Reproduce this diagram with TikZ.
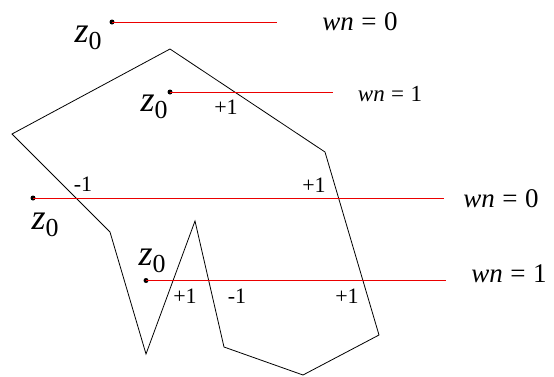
\documentclass[tikz,border=0pt]{standalone}
\usepackage{fontspec}
\setmainfont{Liberation Serif}
\definecolor{rayred}{RGB}{235,0,0}
\newcommand{\zz}{\textit{z}\raisebox{-0.42ex}{\scalebox{0.72}{0}}}
\newcommand{\wneq}[1]{\textit{wn}\;=\;#1}
\begin{document}
\begin{tikzpicture}[x=1pt,y=-1pt,
  dot/.style={circle,fill=black,inner sep=0pt,minimum size=5pt},
  ray/.style={draw=rayred,line width=1pt},
  poly/.style={black,line width=0.8pt,line join=miter},
  zlab/.style={inner sep=0pt,font=\fontsize{36}{38}\selectfont},
  wnbig/.style={inner sep=0pt,font=\fontsize{27}{29}\selectfont},
  wnsmall/.style={inner sep=0pt,font=\fontsize{23}{25}\selectfont},
  cnt/.style={inner sep=0pt,font=\fontsize{22}{24}\selectfont}]
\useasboundingbox (0,0) rectangle (554,376);
% polygon
\coordinate (v1) at (170,49);
\coordinate (v2) at (325,152);
\coordinate (v3) at (379,335);
\coordinate (v4) at (303,375);
\coordinate (v5) at (224,347);
\coordinate (v6) at (195,221);
\coordinate (v7) at (146,354);
\coordinate (v8) at (110,232);
\coordinate (v9) at (12,134);
\draw[poly] (v1) -- (v2) -- (v3) -- (v4) -- (v5) -- (v6) -- (v7) -- (v8) -- (v9) -- cycle;
% rays
\node[dot] (p1) at (112,22) {};
\coordinate (e1) at (277,22);
\node[dot] (p2) at (170,92) {};
\coordinate (e2) at (333,92);
\node[dot] (p3) at (33,198) {};
\coordinate (e3) at (444,198);
\node[dot] (p4) at (146,280.5) {};
\coordinate (e4) at (446,280.5);
\draw[ray] (p1.center) -- (e1);
\draw[ray] (p2.center) -- (e2);
\draw[ray] (p3.center) -- (e3);
\draw[ray] (p4.center) -- (e4);
% z0 labels
\node[zlab] (z1) at (88,38) {\zz};
\node[zlab] (z2) at (154,107) {\zz};
\node[zlab] (z3) at (45,225) {\zz};
\node[zlab] (z4) at (152,261) {\zz};
% wn labels
\node[wnbig] (w1) at (360,22) {\wneq{0}};
\node[wnsmall] (w2) at (390,94) {\wneq{1}};
\node[wnbig] (w3) at (501,199) {\wneq{0}};
\node[wnbig] (w4) at (509,274) {\wneq{1}};
% crossing counts
\node[cnt] (c1) at (226,107) {+1};
\node[cnt] (c2) at (83,184) {-1};
\node[cnt] (c3) at (314,185) {+1};
\node[cnt] (c4) at (185,296) {+1};
\node[cnt] (c5) at (237,296) {-1};
\node[cnt] (c6) at (347,296) {+1};
\end{tikzpicture}
\end{document}
